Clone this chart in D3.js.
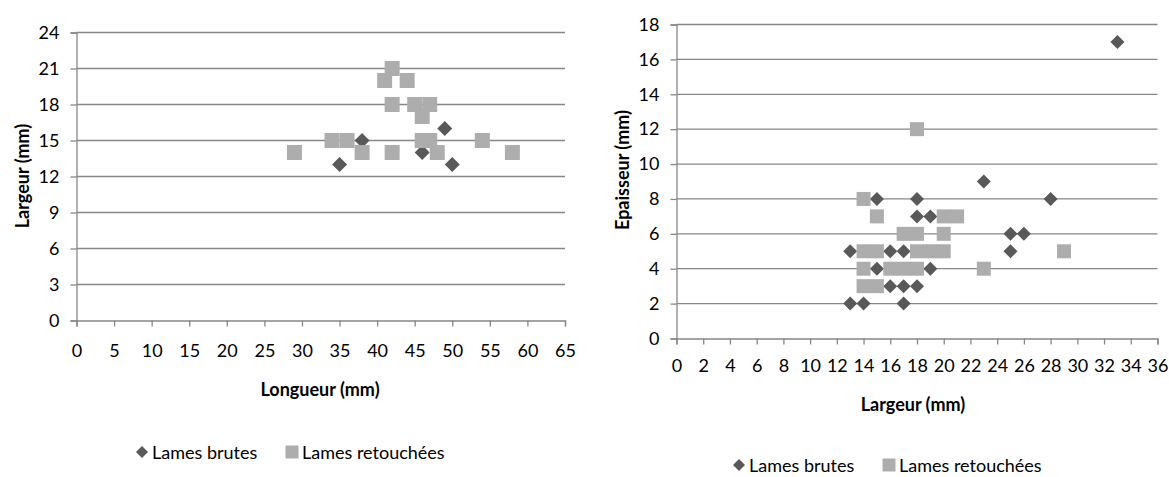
<!DOCTYPE html>
<html><head><meta charset="utf-8">
<script src="https://cdn.jsdelivr.net/npm/d3@7"></script>
<style>body{margin:0;background:#fff}svg text{font-family:Lato,"Open Sans",sans-serif;fill:#000}</style>
</head><body><svg id="c" width="1169" height="477"></svg>
<script>
// ---- Data: chart 1 (Longueur vs Largeur)
const c1XTicks = [0,5,10,15,20,25,30,35,40,45,50,55,60,65];
const c1YTicks = [0,3,6,9,12,15,18,21,24];
const c1Brutes = [[35,13],[38,15],[46,14],[49,16],[50,13]];
const c1Retouchees = [[29,14],[34,15],[36,15],[38,14],[41,20],[42,21],[44,20],[42,18],[42,14],[45,18],[47,18],[46,17],[46,15],[47,15],[48,14],[54,15],[58,14]];
// ---- Data: chart 2 (Largeur vs Epaisseur)
const c2XTicks = [0,2,4,6,8,10,12,14,16,18,20,22,24,26,28,30,32,34,36];
const c2YTicks = [0,2,4,6,8,10,12,14,16,18];
const c2Brutes = [[13,5],[13,2],[14,2],[15,8],[15,4],[16,5],[16,3],[17,5],[17,3],[17,2],[18,8],[18,7],[18,3],[19,7],[19,4],[23,9],[25,6],[26,6],[25,5],[28,8],[33,17]];
const c2Retouchees = [[14,8],[15,7],[14,5],[15,5],[14,4],[14,3],[15,3],[16,4],[17,4],[18,4],[17,6],[18,6],[18,5],[19,5],[20,5],[20,6],[20,7],[21,7],[23,4],[29,5],[18,12]];
const seriesNames = ["Lames brutes","Lames retouchées"];
const xTitles = ["Longueur (mm)","Largeur (mm)"];
const yTitles = ["Largeur (mm)","Epaisseur (mm)"];

const DARK = "#595959", LIGHT = "#ADADAD", GRID = "#878787";
const svg = d3.select("#c");

function chart(cfg){
  const x = d3.scaleLinear().domain([cfg.xTicks[0], cfg.xTicks[cfg.xTicks.length-1]]).range(cfg.xr);
  const y = d3.scaleLinear().domain([cfg.yTicks[0], cfg.yTicks[cfg.yTicks.length-1]]).range(cfg.yr);
  const g = svg.append("g");
  g.selectAll("line.grid").data(cfg.yTicks.slice(1)).join("line")
    .attr("x1", cfg.xr[0]).attr("x2", cfg.xr[1])
    .attr("y1", d=>y(d)).attr("y2", d=>y(d))
    .attr("stroke", GRID).attr("stroke-width", 1.3);
  const ya = g.append("g").attr("transform", `translate(${cfg.xr[0]},0)`)
    .call(d3.axisLeft(y).tickValues(cfg.yTicks).tickSize(6).tickPadding(cfg.yPad).tickFormat(d3.format("d")));
  const xa = g.append("g").attr("transform", `translate(0,${cfg.yr[0]})`)
    .call(d3.axisBottom(x).tickValues(cfg.xTicks).tickSize(6).tickPadding(cfg.xPad).tickFormat(d3.format("d")));
  [ya, xa].forEach(a=>{
    a.select(".domain").attr("stroke", GRID).attr("stroke-width",1.3);
    a.selectAll(".tick line").attr("stroke", GRID).attr("stroke-width",1.3);
    a.selectAll("text").attr("font-size", 18).attr("font-family","Lato").attr("fill","#000");
  });
  const dia = d3.symbol(d3.symbolSquare, cfg.dSize*cfg.dSize/2);
  const sq = d3.symbol(d3.symbolSquare, cfg.sSize*cfg.sSize);
  g.selectAll("path.b").data(cfg.brutes).join("path")
    .attr("d", dia).attr("fill", DARK)
    .attr("transform", d=>`translate(${x(d[0])},${y(d[1])}) rotate(45)`);
  g.selectAll("path.r").data(cfg.retouchees).join("path")
    .attr("d", sq).attr("fill", LIGHT)
    .attr("transform", d=>`translate(${x(d[0])},${y(d[1])})`);
  g.append("text").attr("x", cfg.xtPos[0]).attr("y", cfg.xtPos[1])
    .attr("text-anchor","middle").attr("dominant-baseline","central")
    .attr("font-size",18).attr("font-weight","bold").text(cfg.xTitle);
  g.append("text").attr("transform", `translate(${cfg.ytPos[0]},${cfg.ytPos[1]}) rotate(-90)`)
    .attr("text-anchor","middle").attr("dominant-baseline","central")
    .attr("font-size",18).attr("font-weight","bold").text(cfg.yTitle);
  const lg = g.append("g");
  lg.append("path").attr("d", d3.symbol(d3.symbolSquare, 12*12/2)).attr("fill", DARK)
    .attr("transform", `translate(${cfg.leg[0]},${cfg.leg[2]}) rotate(45)`);
  lg.append("text").attr("x", cfg.leg[0]+10).attr("y", cfg.leg[2]).attr("dominant-baseline","central")
    .attr("font-size",18).text(seriesNames[0]);
  lg.append("path").attr("d", d3.symbol(d3.symbolSquare, 13*13)).attr("fill", LIGHT)
    .attr("transform", `translate(${cfg.leg[1]},${cfg.leg[2]})`);
  lg.append("text").attr("x", cfg.leg[1]+10).attr("y", cfg.leg[2]).attr("dominant-baseline","central")
    .attr("font-size",18).text(seriesNames[1]);
}

chart({xTicks:c1XTicks, yTicks:c1YTicks, xr:[76.5,565], yr:[320.5,32.5], brutes:c1Brutes, retouchees:c1Retouchees,
  dSize:15, sSize:15, xPad:18, yPad:11, xTitle:xTitles[0], yTitle:yTitles[0], xtPos:[320,389], ytPos:[22,176], leg:[142,292,452]});
chart({xTicks:c2XTicks, yTicks:c2YTicks, xr:[676.5,1157.5], yr:[338.5,24.5], brutes:c2Brutes, retouchees:c2Retouchees,
  dSize:14, sSize:14, xPad:15, yPad:11, xTitle:xTitles[1], yTitle:yTitles[1], xtPos:[913,404], ytPos:[622,170], leg:[739,889,465]});
</script></body></html>
